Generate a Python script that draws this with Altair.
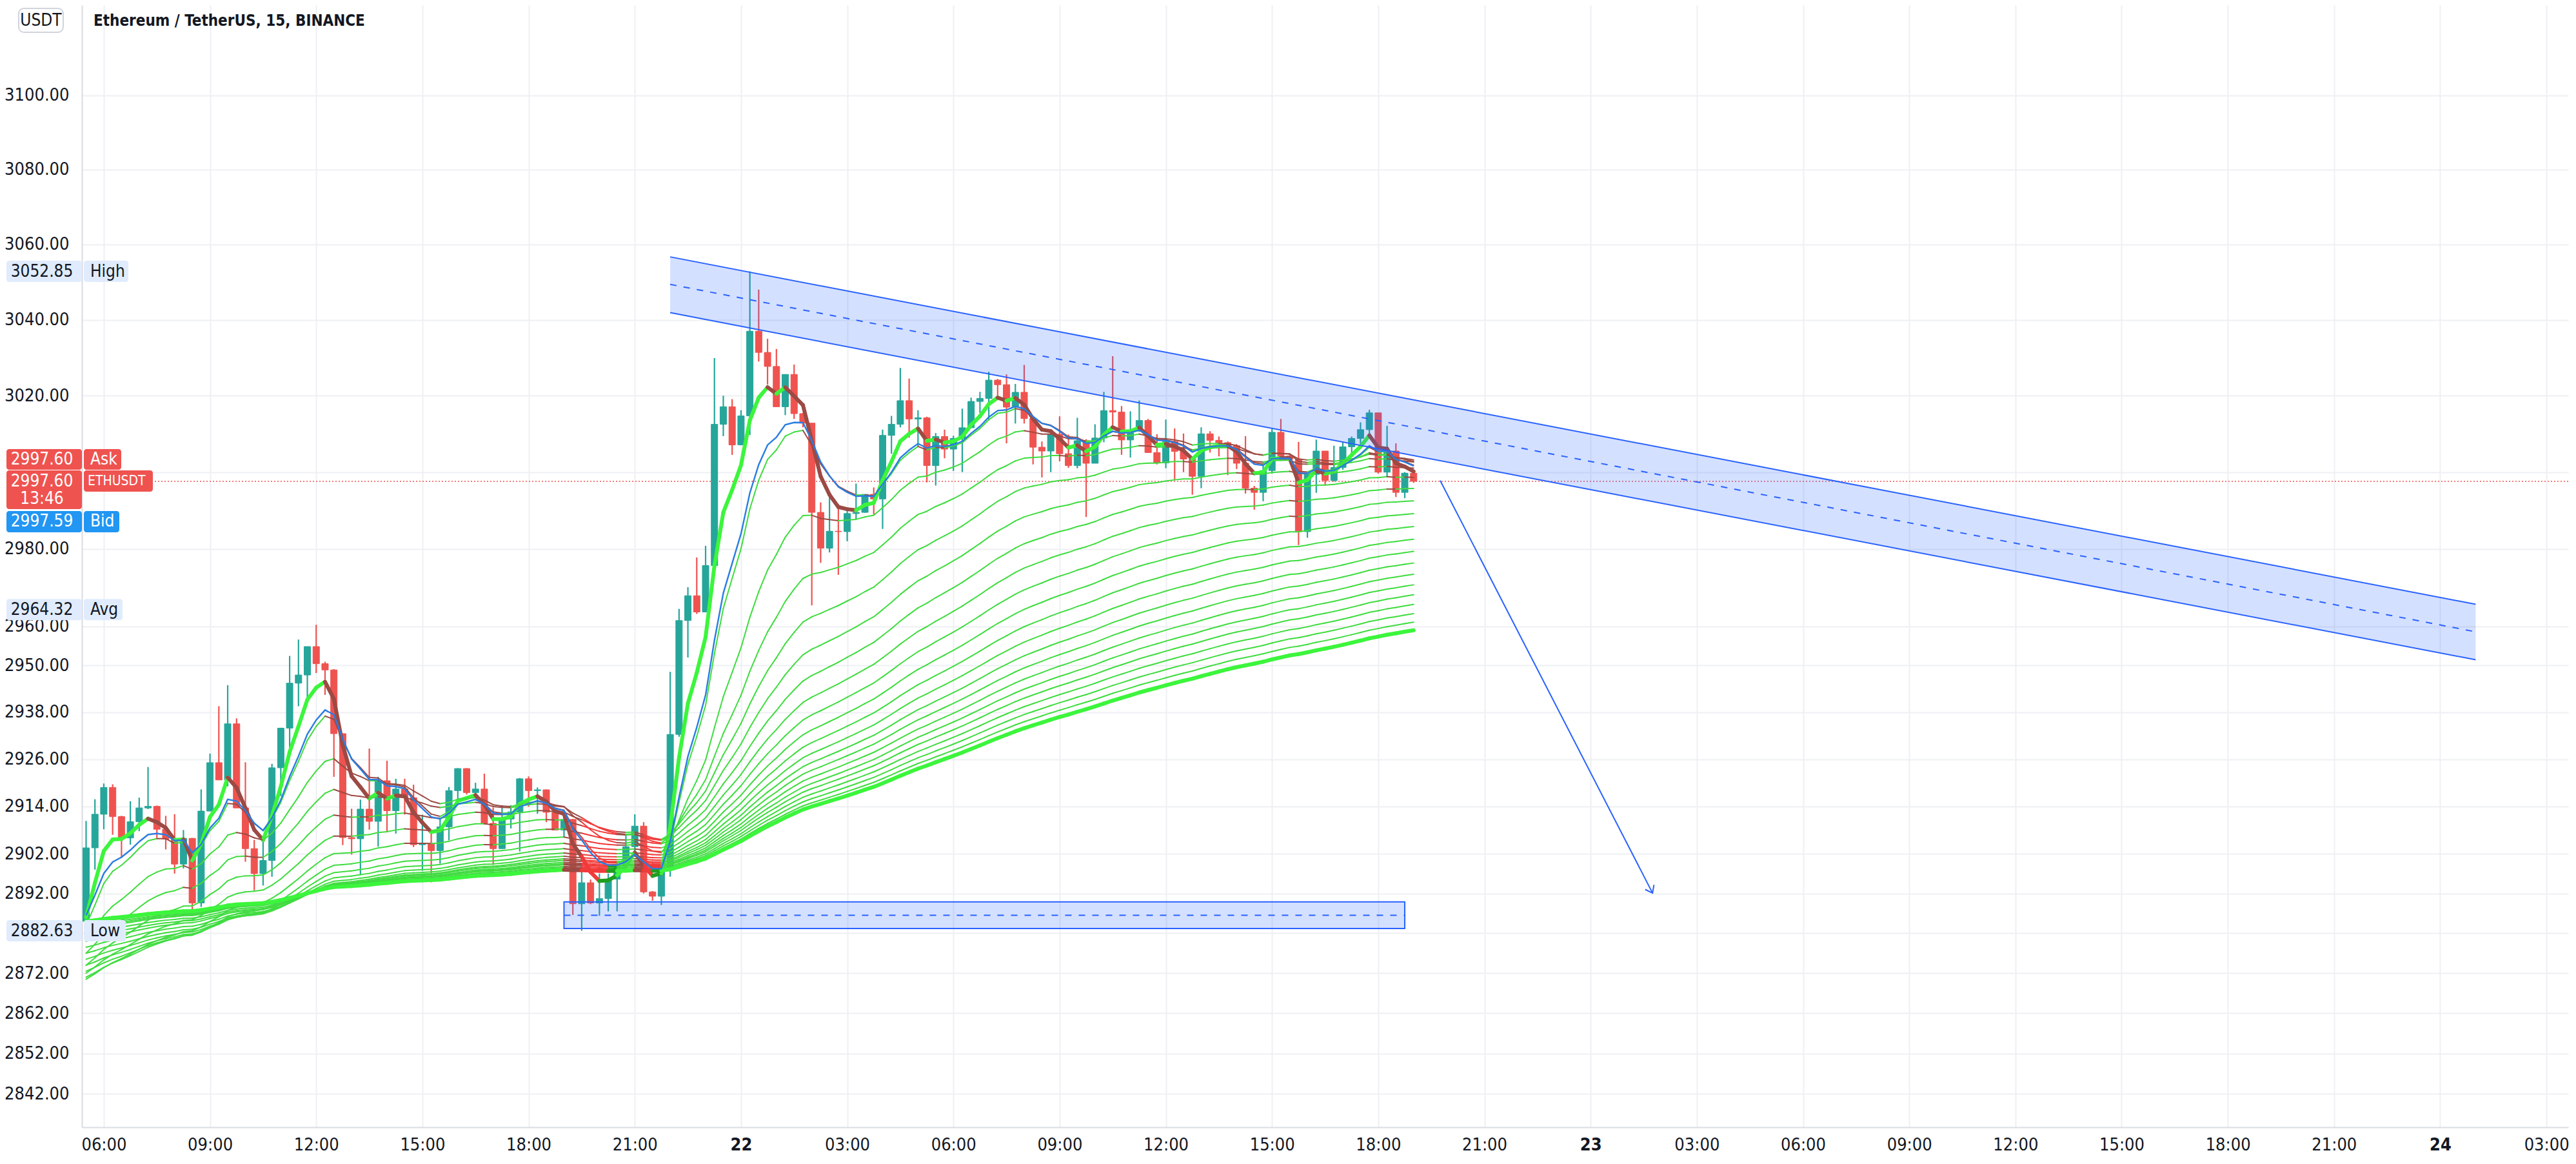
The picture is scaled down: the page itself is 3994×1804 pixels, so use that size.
import math
import altair as alt
import pandas as pd

# ---------------- data (ETH/USDT, 15 min, first bar 05:30 on the 21st) ----------------
opens = [
    2885.0, 2903.5,
    2912.0, 2918.8, 2911.4, 2906.0, 2910.1, 2913.6, 2914.0, 2908.2, 2905.7, 2899.4, 2905.9, 2889.6,
    2912.8, 2925.1, 2920.7, 2935.0, 2913.6, 2903.3, 2897.0, 2900.3, 2923.8, 2933.9, 2945.4, 2947.5,
    2954.8, 2950.4, 2948.8, 2932.5, 2906.1, 2905.8, 2913.3, 2910.2, 2920.5, 2912.9, 2918.4, 2916.2,
    2904.3, 2904.6, 2902.8, 2908.8, 2918.0, 2923.6, 2917.5, 2918.4, 2909.7, 2903.3, 2910.8, 2912.6,
    2921.0, 2918.0, 2918.2, 2912.5, 2908.0, 2910.7, 2889.4, 2894.7, 2889.6, 2890.7, 2895.6, 2899.1,
    2903.8, 2909.0, 2892.4, 2891.3, 2898.4, 2932.3, 2961.5, 2967.9, 2963.7, 2975.7, 3012.5, 3017.1,
    3007.1, 3014.7, 3037.0, 3031.4, 3027.7, 3017.1, 3025.6, 3015.3, 3012.8, 2989.5, 2980.2, 2984.6,
    2984.5, 2989.2, 2989.5, 2994.2, 2993.0, 3009.6, 3012.5, 3018.7, 3013.9, 3014.2, 3001.7, 3009.3,
    3006.0, 3008.8, 3011.6, 3018.5, 3019.3, 3024.1, 3022.9, 3017.0, 3020.9, 3014.0, 3006.5, 3005.5,
    3009.9, 3004.8, 3001.7, 3008.2, 3002.3, 3008.9, 3016.1, 3015.7, 3008.4, 3010.8, 3013.5, 3005.1,
    3002.4, 3008.0, 3005.4, 3003.4, 2998.9, 3010.0, 3008.3, 3007.7, 3006.9, 3002.3, 2995.8, 2994.7,
    3000.4, 3010.4, 3004.2, 3003.4, 2984.5, 2999.4, 3005.5, 2997.8, 3001.2, 3006.6, 3008.8, 3011.1,
    3015.5, 3000.0, 3005.5, 2994.7, 2999.7,
]
highs = [
    2910.3, 2915.8,
    2919.8, 2919.6, 2911.6, 2915.3, 2916.2, 2924.0, 2914.2, 2911.6, 2912.0, 2908.0, 2906.0, 2918.3,
    2927.4, 2939.5, 2944.9, 2936.4, 2925.2, 2905.5, 2906.0, 2924.8, 2934.0, 2952.4, 2956.6, 2954.8,
    2960.4, 2950.9, 2949.0, 2932.5, 2913.4, 2915.7, 2928.7, 2921.5, 2925.6, 2921.0, 2921.0, 2919.5,
    2911.9, 2907.4, 2910.8, 2918.9, 2923.7, 2923.7, 2920.0, 2922.3, 2913.7, 2914.3, 2914.3, 2921.2,
    2921.6, 2918.8, 2918.3, 2912.6, 2911.6, 2910.8, 2899.0, 2895.5, 2897.0, 2897.0, 2899.6, 2906.8,
    2912.0, 2910.0, 2892.6, 2898.4, 2948.3, 2964.5, 2970.1, 2977.8, 2980.8, 3029.9, 3020.0, 3019.1,
    3016.2, 3052.85, 3048.0, 3035.0, 3032.3, 3025.6, 3028.2, 3015.5, 3012.8, 2992.1, 2993.9, 2991.6,
    2990.4, 2997.0, 2994.2, 2996.0, 3011.1, 3014.7, 3027.3, 3024.5, 3016.2, 3014.5, 3010.2, 3011.1,
    3009.5, 3016.6, 3019.5, 3021.0, 3026.3, 3024.4, 3025.6, 3023.1, 3028.1, 3014.2, 3008.0, 3010.2,
    3014.6, 3009.8, 3014.2, 3008.6, 3012.5, 3021.0, 3030.4, 3017.3, 3015.9, 3018.75, 3013.9, 3009.9,
    3013.75, 3011.4, 3010.1, 3003.7, 3011.7, 3010.7, 3009.3, 3008.0, 3007.3, 3009.4, 2996.4, 3002.5,
    3011.3, 3013.9, 3004.8, 3007.9, 2999.4, 3008.5, 3005.5, 3006.9, 3007.7, 3009.3, 3013.0, 3016.3,
    3015.5, 3012.1, 3007.5, 3000.0, 2999.8,
]
lows = [
    2884.0, 2898.0,
    2908.2, 2906.8, 2901.0, 2904.3, 2907.7, 2913.3, 2906.0, 2903.1, 2897.0, 2898.3, 2887.2, 2888.6,
    2912.8, 2920.7, 2919.1, 2913.6, 2900.0, 2892.8, 2894.0, 2896.2, 2916.6, 2929.0, 2939.5, 2940.5,
    2948.0, 2942.4, 2921.5, 2904.2, 2901.8, 2896.6, 2908.1, 2903.8, 2907.4, 2907.1, 2911.9, 2903.7,
    2897.7, 2894.8, 2899.5, 2905.4, 2915.0, 2917.0, 2916.5, 2909.6, 2899.2, 2903.3, 2908.4, 2902.6,
    2913.9, 2912.1, 2910.0, 2908.0, 2906.1, 2886.6, 2882.63, 2889.3, 2886.4, 2887.5, 2887.5, 2898.6,
    2901.7, 2892.0, 2890.2, 2889.1, 2896.2, 2931.7, 2952.0, 2963.2, 2963.7, 2975.7, 3009.4, 3004.5,
    3007.0, 3009.7, 3029.0, 3022.9, 3017.1, 3014.9, 3013.9, 3011.7, 2965.4, 2976.4, 2979.1, 2973.3,
    2982.0, 2987.7, 2989.4, 2989.0, 2985.2, 3004.8, 3011.7, 3009.0, 3006.5, 2997.3, 2996.5, 3003.6,
    3000.3, 3000.0, 3011.6, 3015.5, 3013.6, 3019.0, 3007.5, 3012.7, 3012.7, 3002.0, 2998.6, 3000.0,
    3002.8, 3001.1, 3001.0, 2988.3, 3002.3, 3007.8, 3012.2, 3004.5, 3003.8, 3010.5, 3005.1, 3002.0,
    3001.0, 2998.0, 3000.0, 2994.1, 2995.8, 3005.1, 3004.1, 2999.2, 3000.8, 2994.4, 2990.2, 2992.4,
    2999.6, 3004.2, 3003.3, 2981.0, 2982.9, 2994.6, 2996.6, 2997.5, 3000.6, 3004.2, 3007.3, 3009.6,
    2999.6, 2998.6, 2993.5, 2993.2, 2997.2,
]
closes = [
    2903.5, 2912.0,
    2918.8, 2911.4, 2906.0, 2910.1, 2913.6, 2914.0, 2908.2, 2905.7, 2899.4, 2905.9, 2889.6, 2912.8,
    2925.1, 2920.7, 2935.0, 2913.6, 2903.3, 2897.0, 2900.3, 2923.8, 2933.9, 2945.4, 2947.5, 2954.8,
    2950.4, 2948.8, 2932.5, 2906.1, 2905.8, 2913.3, 2910.2, 2920.5, 2912.9, 2918.4, 2916.2, 2904.3,
    2904.6, 2902.8, 2908.8, 2918.0, 2923.6, 2917.5, 2918.4, 2909.7, 2903.3, 2910.8, 2912.6, 2921.0,
    2918.0, 2918.2, 2912.5, 2908.0, 2910.7, 2889.4, 2894.7, 2889.6, 2890.7, 2895.6, 2899.1, 2903.8,
    2909.0, 2892.4, 2891.3, 2898.4, 2932.3, 2961.5, 2967.9, 2963.7, 2975.7, 3012.5, 3017.1, 3007.1,
    3014.7, 3037.0, 3031.4, 3027.7, 3017.1, 3025.6, 3015.3, 3012.8, 2989.5, 2980.2, 2984.6, 2984.5,
    2989.2, 2989.5, 2994.2, 2993.0, 3009.6, 3012.5, 3018.7, 3013.9, 3014.2, 3001.7, 3009.3, 3006.0,
    3008.8, 3011.6, 3018.5, 3019.3, 3024.1, 3022.9, 3017.0, 3020.9, 3014.0, 3006.5, 3005.5, 3009.9,
    3004.8, 3001.7, 3008.2, 3002.3, 3008.9, 3016.1, 3015.7, 3008.4, 3010.8, 3013.5, 3005.1, 3002.4,
    3008.0, 3005.4, 3003.4, 2998.9, 3010.0, 3008.3, 3007.7, 3006.9, 3002.3, 2995.8, 2994.7, 3000.4,
    3010.4, 3004.2, 3003.4, 2984.5, 2999.4, 3005.5, 2997.8, 3001.2, 3006.6, 3008.8, 3011.1, 3015.5,
    3000.0, 3005.5, 2994.7, 2999.7, 2997.6,
]
first_bar_hour = 5.5      # hours after 00:00 on the 21st
bar_step_hour = 0.25      # 15-minute bars

# moving-average ribbon: periods and their values at the first bar (read at the left edge)
ribbon_periods = [5, 10, 20, 30, 40, 50, 60, 70, 80, 90, 100, 110, 120, 130, 140, 150, 160, 170, 180, 190, 200]
ribbon_start = [2886.0, 2884.0, 2880.0, 2877.0, 2874.0, 2872.0, 2870.5, 2871.0, 2872.5, 2874.0, 2875.5,
                2877.0, 2878.5, 2880.0, 2881.0, 2882.0, 2883.0, 2883.5, 2884.0, 2884.5, 2885.0]
blue_period = 9
blue_start = 2886.5

time_ticks = [6, 9, 12, 15, 18, 21, 24, 27, 30, 33, 36, 39, 42, 45, 48, 51, 54, 57, 60, 63, 66, 69, 72, 75]
price_ticks = [3100, 3080, 3060, 3040, 3020, 3000, 2980, 2960, 2950, 2938, 2926, 2914, 2902, 2892, 2882,
               2872, 2862, 2852, 2842]
price_ticks_hidden = [3000, 2882]

channel_hours = [22.0, 73.0]
channel_upper = [3056.7, 2965.7]
channel_middle = [3049.4, 2958.6]
channel_lower = [3041.9, 2951.4]

range_hours = [19.0, 42.75]
range_prices = [2883.2, 2889.9]
range_middle = 2886.5

arrow_hours = [43.75, 49.75]
arrow_prices = [2997.8, 2892.1]

last_price = 2997.60
bid_price = 2997.59
high_price = 3052.85
low_price = 2882.63
avg_price = 2964.32
countdown = "13:46"
title_text = "Ethereum / TetherUS, 15, BINANCE"

# ---------------- style / layout ----------------
FONT = "Liberation Sans Narrow, DejaVu Sans Condensed, Liberation Sans, sans-serif"
TEXT = "#131722"
GRID = "#EEF0F3"
BORDER = "#D9DCE2"
UP = "#26A69A"
DOWN = "#EF5350"
DRAW = "#2962FF"
BLUE_LINE = "#2A7DE1"
LIME_THIN = "#40DC40"
LIME_THICK = "#3CF53C"
MAROON = "#9C4A44"
RED = "#F23A3A"
DKGREEN = "#1E9E1E"
TAG_LIGHT = "#E0ECFD"
TAG_BLUE = "#2196F3"

AXIS_W, AXIS_H = 119, 46
PLOT_W, PLOT_H = 3855, 1739
PX_PER_HOUR = 55.03
X0 = 6 - 29 / PX_PER_HOUR
X1 = X0 + PLOT_W / PX_PER_HOUR
Y_TOP, Y_BOTTOM = 3124.39, 2833.77

xs = alt.Scale(domain=[X0, X1], nice=False, zero=False)
ys = alt.Scale(type="log", domain=[Y_BOTTOM, Y_TOP], nice=False)

hidden_test = " || ".join(f"abs(datum.value - {v}) < 0.001" for v in price_ticks_hidden)
x_axis = alt.Axis(
    values=time_ticks, title=None,
    labelExpr="datum.value % 24 == 0 ? format(21 + datum.value / 24, 'd') : format(datum.value % 24, '02d') + ':00'",
    grid=True, gridColor=GRID, gridWidth=2, domainColor=BORDER, domainWidth=2,
    ticks=False, tickSize=0, labelPadding=27, labelBaseline="middle",
    labelFont=FONT, labelFontSize=27, labelColor=TEXT, labelFlush=False, labelOverlap=False,
    labelFontWeight={"condition": {"test": "datum.value % 24 == 0", "value": "bold"}, "value": "normal"},
)
y_axis = alt.Axis(
    values=price_ticks, title=None,
    labelExpr=f"({hidden_test}) ? '' : format(datum.value, '.2f')",
    grid=True, gridColor=GRID, gridWidth=2, domainColor=BORDER, domainWidth=2,
    ticks=False, tickSize=0, labelPadding=20,
    labelFont=FONT, labelFontSize=27, labelColor=TEXT, labelFlush=False, labelOverlap=False,
)


def X(field):
    return alt.X(field, type="quantitative", scale=xs, axis=x_axis)


def Y(field):
    return alt.Y(field, type="quantitative", scale=ys, axis=y_axis)


n = len(closes)
hours = [first_bar_hour + i * bar_step_hour for i in range(n)]

candles = pd.DataFrame({
    "h": hours, "o": opens, "hi": highs, "lo": lows, "c": closes,
    "col": [UP if c >= o else DOWN for o, c in zip(opens, closes)],
})


def ema(period, start):
    k = 2.0 / (period + 1)
    vals = [start]
    for c in closes[1:]:
        vals.append(vals[-1] + k * (c - vals[-1]))
    return vals


ribbon = [ema(p, s) for p, s in zip(ribbon_periods, ribbon_start)]
lead, ref = ribbon[0], ribbon[-1]
seg_rows = []
for j, vals in enumerate(ribbon):
    thick = j == 0 or j == len(ribbon) - 1
    for i in range(1, n):
        up = vals[i] >= vals[i - 1]
        above = lead[i] > ref[i]
        if up and above:
            col = LIME_THICK if thick else LIME_THIN
        elif above:
            col = MAROON
        elif not up:
            col = RED
        else:
            col = DKGREEN
        seg_rows.append({"x": hours[i - 1], "x2": hours[i], "y": vals[i - 1], "y2": vals[i],
                         "c": col, "w": 6.0 if thick else 2.0})
segments = pd.DataFrame(seg_rows)
blue_df = pd.DataFrame({"h": hours, "v": ema(blue_period, blue_start)})

# ---------------- layers ----------------
price_line = alt.Chart(pd.DataFrame({"p": [last_price]})).mark_rule(
    color=DOWN, strokeWidth=1.5, strokeDash=[2, 3]).encode(y=Y("p"))

wicks = alt.Chart(candles).mark_rule(strokeWidth=2.2, clip=True).encode(
    x=X("h"), y=Y("lo"), y2="hi", color=alt.Color("col:N", scale=None))
bodies = alt.Chart(candles).mark_bar(size=10, strokeWidth=1, clip=True, orient="vertical").encode(
    x=X("h"), y=Y("o"), y2="c", color=alt.Color("col:N", scale=None), stroke=alt.Stroke("col:N", scale=None))

ribbon_layer = alt.Chart(segments).mark_rule(strokeCap="round", clip=True).encode(
    x=X("x"), x2="x2", y=Y("y"), y2="y2",
    color=alt.Color("c:N", scale=None), strokeWidth=alt.StrokeWidth("w:Q", scale=None))
blue_layer = alt.Chart(blue_df).mark_line(color=BLUE_LINE, strokeWidth=2.4, clip=True).encode(
    x=X("h"), y=Y("v"))

channel_df = pd.DataFrame({"h": channel_hours, "lo": channel_lower, "up": channel_upper})
channel_fill = alt.Chart(channel_df).mark_area(color=DRAW, opacity=0.2).encode(x=X("h"), y=Y("lo"), y2="up")
edges_df = pd.DataFrame({
    "x": [channel_hours[0]] * 2, "x2": [channel_hours[1]] * 2,
    "y": [channel_upper[0], channel_lower[0]], "y2": [channel_upper[1], channel_lower[1]],
})
channel_edges = alt.Chart(edges_df).mark_rule(color=DRAW, strokeWidth=2).encode(
    x=X("x"), x2="x2", y=Y("y"), y2="y2")
mid_df = pd.DataFrame({"x": [channel_hours[0]], "x2": [channel_hours[1]],
                       "y": [channel_middle[0]], "y2": [channel_middle[1]]})
channel_mid = alt.Chart(mid_df).mark_rule(color=DRAW, strokeWidth=2, strokeDash=[10, 11]).encode(
    x=X("x"), x2="x2", y=Y("y"), y2="y2")

range_df = pd.DataFrame({"h0": [range_hours[0]], "h1": [range_hours[1]],
                         "p0": [range_prices[0]], "p1": [range_prices[1]], "pm": [range_middle]})
range_box = alt.Chart(range_df).mark_rect(fill=DRAW, fillOpacity=0.2, stroke=DRAW, strokeWidth=2).encode(
    x=X("h0"), x2="h1", y=Y("p0"), y2="p1")
range_mid = alt.Chart(range_df).mark_rule(color=DRAW, strokeWidth=2, strokeDash=[10, 11]).encode(
    x=X("h0"), x2="h1", y=Y("pm"))

arrow_df = pd.DataFrame({"x": [arrow_hours[0]], "x2": [arrow_hours[1]],
                         "y": [arrow_prices[0]], "y2": [arrow_prices[1]]})
arrow_line = alt.Chart(arrow_df).mark_rule(color=DRAW, strokeWidth=2).encode(
    x=X("x"), x2="x2", y=Y("y"), y2="y2")
arrow_head = alt.Chart(arrow_df).mark_point(
    shape="M -1 -0.75 L 0 0 L -1 0.75", size=420, angle=62.7, filled=False,
    stroke=DRAW, strokeWidth=2, opacity=1).encode(x=X("x2"), y=Y("y2"))


def tag(price, x0, x1, top, bottom, fill):
    return alt.Chart(pd.DataFrame({"p": [price]})).mark_rect(
        fill=fill, cornerRadius=4, yOffset=top, y2Offset=bottom).encode(
        x=alt.value(x0), x2=alt.value(x1), y=Y("p"), y2="p")


def tag_text(price, x, text, color, dy=0, align="center", size=26):
    return alt.Chart(pd.DataFrame({"p": [price]})).mark_text(
        font=FONT, fontSize=size, color=color, align=align, baseline="middle", dy=dy).encode(
        x=alt.value(x), y=Y("p"), text=alt.value(text))


tags = []
for price, name, left_w in [(high_price, "High", 69), (avg_price, "Avg", 60), (low_price, "Low", 65)]:
    tags += [tag(price, -117, 0, -16.5, 16.5, TAG_LIGHT), tag(price, 3, 3 + left_w, -16.5, 16.5, TAG_LIGHT),
             tag_text(price, -62, f"{price:.2f}", TEXT), tag_text(price, 13, name, TEXT, align="left")]
tags += [
    tag(last_price, -117, 0, -50, -18, DOWN), tag(last_price, 3, 61, -50, -18, DOWN),
    tag_text(last_price, -62, f"{last_price:.2f}", "white", dy=-34),
    tag_text(last_price, 13, "Ask", "white", dy=-34, align="left"),
    tag(last_price, -117, 0, -17, 43, DOWN), tag(last_price, 3, 110, -17, 16, DOWN),
    tag_text(last_price, -62, f"{last_price:.2f}", "white"),
    tag_text(last_price, -62, countdown, "white", dy=27),
    tag_text(last_price, 9, "ETHUSDT", "white", align="left", size=21),
    tag(bid_price, -117, 0, 46, 79, TAG_BLUE), tag(bid_price, 3, 58, 46, 79, TAG_BLUE),
    tag_text(bid_price, -62, f"{bid_price:.2f}", "white", dy=62),
    tag_text(bid_price, 13, "Bid", "white", dy=62, align="left"),
]

one = pd.DataFrame({"a": [0]})
usdt_box = alt.Chart(one).mark_rect(fill="white", stroke="#D1D4DC", strokeWidth=2, cornerRadius=8).encode(
    x=alt.value(-98), x2=alt.value(-29), y=alt.value(5), y2=alt.value(42))
usdt_text = alt.Chart(one).mark_text(font=FONT, fontSize=26, color=TEXT, align="center", baseline="middle").encode(
    x=alt.value(-63.5), y=alt.value(23.5), text=alt.value("USDT"))
title = alt.Chart(one).mark_text(font=FONT, fontSize=24, fontWeight="bold", color=TEXT,
                                 align="left", baseline="middle").encode(
    x=alt.value(18), y=alt.value(25), text=alt.value(title_text))

chart = alt.layer(
    price_line, wicks, bodies, ribbon_layer, blue_layer,
    channel_fill, channel_edges, channel_mid, range_box, range_mid, arrow_line, arrow_head,
    *tags, usdt_box, usdt_text, title,
).properties(
    width=PLOT_W, height=PLOT_H, background="white",
    autosize=alt.AutoSizeParams(type="none"),
    padding={"left": AXIS_W, "top": 0, "right": 4, "bottom": AXIS_H},
).configure_view(strokeWidth=0)

chart.save("out.html", embed_options={"renderer": "svg", "actions": False})
